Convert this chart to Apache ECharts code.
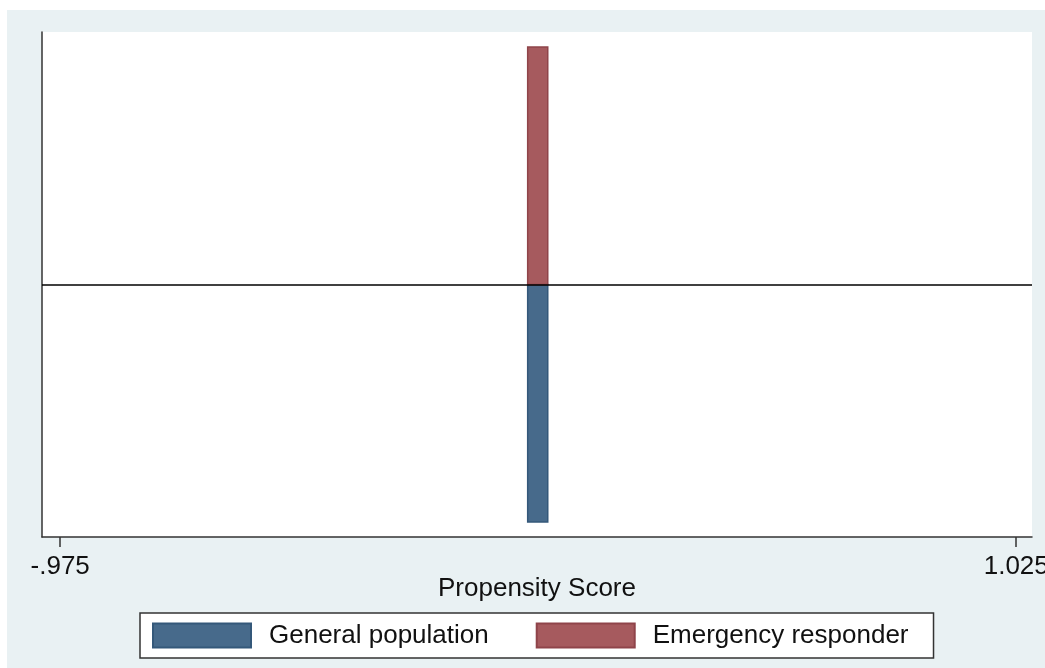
<!DOCTYPE html>
<html>
<head>
<meta charset="utf-8">
<script src="https://cdn.jsdelivr.net/npm/echarts@6/dist/echarts.min.js"></script>
<style>
  html, body { margin: 0; padding: 0; background: #ffffff; overflow: hidden; }
  #chart { width: 1045px; height: 668px; }
</style>
</head>
<body>
<div id="chart"></div>
<script>
// Histogram bin (propensity score edges) and bar heights per group
const binStart = [0.003];
const binEnd = [0.045];
const generalPopulation = [1.0];   // drawn below the zero line
const emergencyResponder = [1.0];  // drawn above the zero line

const seriesNames = ['General population', 'Emergency responder'];
const tickValues = [-0.975, 1.025];
const tickLabels = ['-.975', '1.025'];

const blue = '#476A8B';
const blueEdge = '#34587A';
const red = '#A65A5E';
const redEdge = '#8F444A';

function makeBars(values, sign) {
  return binStart.map((s, i) => [s, binEnd[i], sign * values[i]]);
}

function renderBar(params, api) {
  const p0 = api.coord([api.value(0), 0]);
  const p1 = api.coord([api.value(1), api.value(2)]);
  return {
    type: 'rect',
    shape: {
      x: p0[0],
      y: Math.min(p0[1], p1[1]),
      width: p1[0] - p0[0],
      height: Math.abs(p1[1] - p0[1])
    },
    style: api.style()
  };
}

const chart = echarts.init(document.getElementById('chart'), null, { renderer: 'canvas', width: 1045, height: 668 });

const font = 'Liberation Sans, Arial, sans-serif';

chart.setOption({
  backgroundColor: '#ffffff',
  animation: false,
  textStyle: { fontFamily: font },
  graphic: [{
    type: 'rect',
    z: -10,
    silent: true,
    shape: { x: 7, y: 10, width: 1038, height: 658 },
    style: { fill: '#E9F1F3' }
  }],
  grid: {
    left: 42, right: 13, top: 32, bottom: 131,
    outerBoundsMode: 'none',
    containLabel: false,
    show: true, backgroundColor: '#ffffff', borderWidth: 0
  },
  xAxis: {
    type: 'value',
    min: -1.013,
    max: 1.058,
    splitLine: { show: false },
    axisLine: { show: true, onZero: false, lineStyle: { color: '#333333', width: 1.5 } },
    axisTick: { show: true, length: 10, customValues: tickValues, lineStyle: { color: '#333333', width: 1.5 } },
    axisLabel: {
      customValues: tickValues,
      margin: 17,
      fontSize: 26,
      color: '#111111',
      fontFamily: font,
      formatter: (v) => tickLabels[tickValues.findIndex(t => Math.abs(t - v) < 1e-9)] || ''
    },
    name: 'Propensity Score',
    nameLocation: 'middle',
    nameGap: 39,
    nameMoveOverlap: false,
    nameTextStyle: { fontSize: 26, color: '#111111', fontFamily: font }
  },
  yAxis: {
    type: 'value',
    min: -1.063,
    max: 1.063,
    splitLine: { show: false },
    axisLabel: { show: false },
    axisTick: { show: false },
    axisLine: { show: true, onZero: false, lineStyle: { color: '#333333', width: 1.5 } }
  },
  legend: {
    data: seriesNames,
    left: 140,
    top: 613,
    orient: 'horizontal',
    padding: [7, 25, 7, 12],
    itemWidth: 98,
    itemHeight: 24,
    itemGap: 47,
    backgroundColor: '#ffffff',
    borderColor: '#333333',
    borderWidth: 1.5,
    borderRadius: 0,
    icon: 'rect',
    textStyle: {
      fontSize: 26,
      color: '#111111',
      fontFamily: font,
      lineHeight: 24,
      padding: [7, 0, 0, 13]
    }
  },
  series: [
    {
      name: seriesNames[0],
      type: 'custom',
      renderItem: renderBar,
      encode: { x: [0, 1], y: 2 },
      itemStyle: { color: blue, borderColor: blueEdge, borderWidth: 1.5 },
      data: makeBars(generalPopulation, -1),
      markLine: {
        silent: true,
        symbol: 'none',
        label: { show: false },
        lineStyle: { color: '#000000', width: 1.5, type: 'solid' },
        data: [{ yAxis: 0 }],
        z: 10
      }
    },
    {
      name: seriesNames[1],
      type: 'custom',
      renderItem: renderBar,
      encode: { x: [0, 1], y: 2 },
      itemStyle: { color: red, borderColor: redEdge, borderWidth: 1.5 },
      data: makeBars(emergencyResponder, 1)
    }
  ]
});
</script>
</body>
</html>
